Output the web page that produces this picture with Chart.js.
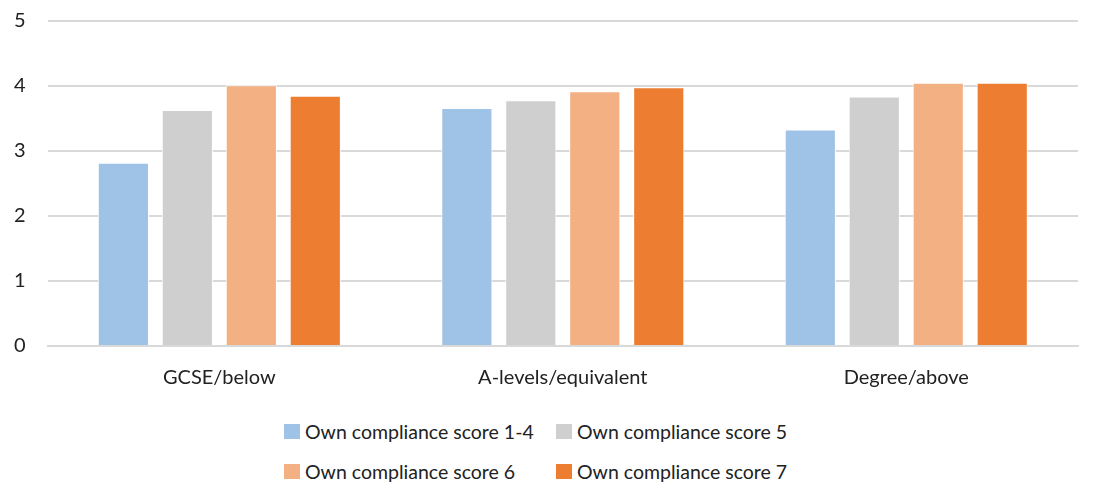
<!DOCTYPE html>
<html><head><meta charset="utf-8">
<script src="https://cdn.jsdelivr.net/npm/chart.js@4/dist/chart.umd.min.js"></script>
<style>
html,body{margin:0;padding:0;background:#fff;overflow:hidden;}
#wrap{position:relative;width:1094px;height:490px;overflow:hidden;}
#cv{position:absolute;left:-8px;top:-13px;}
.leg{position:absolute;font-family:Lato,"Open Sans",sans-serif;font-size:19.5px;color:#222;display:flex;align-items:center;white-space:nowrap;}
.leg span.b{display:inline-block;width:16px;height:15px;margin-right:5px;}
</style></head>
<body><div id="wrap"><canvas id="cv" width="1102" height="415"></canvas><div id="legend"></div></div>
<script>
const categories = ["GCSE/below", "A-levels/equivalent", "Degree/above"];
const seriesNames = ["Own compliance score 1-4", "Own compliance score 5", "Own compliance score 6", "Own compliance score 7"];
const score14 = [2.82, 3.66, 3.33];
const score5 = [3.63, 3.78, 3.84];
const score6 = [4.01, 3.92, 4.05];
const score7 = [3.85, 3.98, 4.05];
const yTicks = [0, 1, 2, 3, 4, 5];
const colors = ["#9fc3e6", "#d0cfd0", "#f3b183", "#ed7d31"];

const values = [score14, score5, score6, score7];
const FONT = 'Lato, "Open Sans", sans-serif';
new Chart(document.getElementById('cv'), {
  type: 'bar',
  data: {
    labels: categories,
    datasets: values.map((v, i) => ({
      label: seriesNames[i], data: v, backgroundColor: colors[i],
      borderColor: '#ffffff', borderWidth: 1,
      barPercentage: 0.8, categoryPercentage: 0.745
    }))
  },
  options: {
    responsive: false, animation: false,
    layout: { padding: { top: 0, right: 16, left: 0 } },
    plugins: { legend: { display: false }, tooltip: { enabled: false } },
    scales: {
      x: {
        grid: { display: false }, border: { color: '#d9d9d9', width: 2 },
        ticks: { color: '#222', font: { family: FONT, size: 20 }, padding: 12 }
      },
      y: {
        min: 0, max: 5,
        afterBuildTicks: (s) => { s.ticks = yTicks.map(v => ({ value: v })); },
        grid: { color: '#d9d9d9', lineWidth: 2, drawTicks: false },
        border: { display: false },
        ticks: { color: '#222', font: { family: FONT, size: 20 }, padding: 22 }
      }
    }
  }
});
const leg = document.getElementById('legend');
const pos = [[284, 432], [556, 432], [284, 472], [556, 472]];
seriesNames.forEach((n, i) => {
  const d = document.createElement('div');
  d.className = 'leg';
  d.style.left = pos[i][0] + 'px';
  d.style.top = (pos[i][1] - 12) + 'px';
  d.innerHTML = '<span class="b" style="background:' + colors[i] + '"></span>' + n;
  leg.appendChild(d);
});
</script></body></html>
